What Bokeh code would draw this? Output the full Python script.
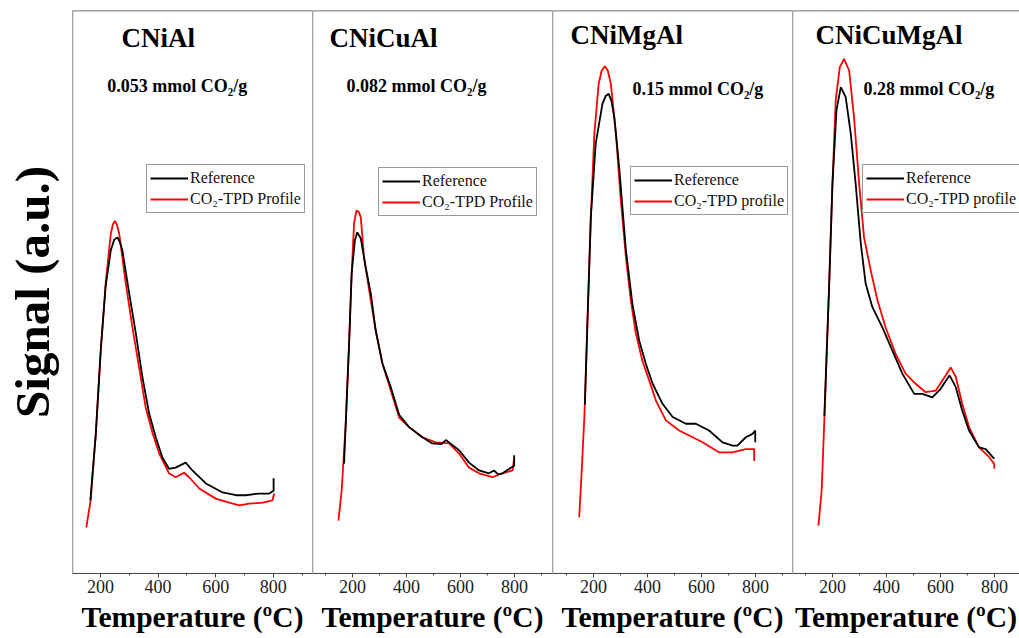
from bokeh.plotting import figure
from bokeh.models import Range1d, Span, Label, Legend, LegendItem, FixedTicker
from bokeh.layouts import row
from bokeh.embed import file_html
from bokeh.resources import INLINE

SERIF = "Liberation Serif"

samples = ["CNiAl", "CNiCuAl", "CNiMgAl", "CNiCuMgAl"]
capacities = ["0.053 mmol CO₂/g", "0.082 mmol CO₂/g", "0.15 mmol CO₂/g", "0.28 mmol CO₂/g"]
ref_label = "Reference"
tpd_labels = ["CO₂-TPD Profile", "CO₂-TPD Profile", "CO₂-TPD profile", "CO₂-TPD profile"]
x_ticks = [200, 400, 600, 800]
x_minor_ticks = [100, 300, 500, 700, 900]
x_axis_label = "Temperature (ºC)"
y_axis_label = "Signal (a.u.)"

# ---- CNiAl ----
cnial_tpd_T = [151, 166, 184, 201, 218, 236, 243, 250, 257, 265, 288, 311, 334, 357, 381, 404, 438, 461, 490, 508, 543, 600, 647, 682, 716, 763, 797, 803]
cnial_tpd_S = [8.2, 13.0, 24.9, 39.6, 51.5, 60.4, 62.0, 62.6, 62.0, 60.4, 51.5, 43.7, 36.6, 29.5, 24.9, 21.3, 17.8, 17.1, 17.9, 17.1, 15.1, 13.3, 12.6, 12.1, 12.4, 12.6, 13.0, 14.2]
cnial_ref_T = [165, 184, 201, 218, 236, 248, 259, 268, 276, 300, 323, 346, 369, 392, 415, 438, 461, 480, 496, 519, 566, 624, 670, 705, 751, 786, 801, 801]
cnial_ref_S = [13.0, 24.9, 39.6, 51.0, 57.4, 59.3, 59.7, 58.8, 57.4, 49.7, 42.6, 34.8, 28.4, 24.2, 20.6, 18.6, 18.8, 19.3, 19.7, 18.3, 16.0, 14.4, 13.9, 13.9, 14.2, 14.2, 14.7, 16.9]

# ---- CNiCuAl ----
cnicual_tpd_T = [148, 160, 175, 188, 197, 206, 215, 224, 231, 243, 262, 286, 311, 342, 373, 410, 459, 509, 558, 595, 632, 669, 719, 756, 793, 799]
cnicual_tpd_S = [9.4, 14.7, 26.6, 41.4, 53.3, 62.2, 64.5, 64.2, 63.2, 56.1, 50.3, 43.2, 37.3, 32.5, 27.7, 26.0, 24.2, 23.3, 23.1, 21.3, 18.8, 17.8, 17.1, 17.8, 18.3, 20.4]
cnicual_ref_T = [169, 188, 197, 209, 218, 231, 249, 268, 286, 311, 342, 373, 410, 459, 496, 530, 546, 560, 595, 632, 669, 706, 724, 740, 756, 787, 799, 799]
cnicual_ref_S = [19.5, 41.4, 53.3, 59.2, 60.6, 59.5, 54.4, 49.7, 43.2, 37.3, 33.1, 28.2, 26.0, 24.2, 23.1, 23.0, 23.7, 23.2, 21.9, 19.7, 18.3, 17.8, 18.3, 17.6, 17.8, 18.8, 19.1, 21.0]

# ---- CNiMgAl ----
cnimgal_tpd_T = [147, 157, 166, 178, 190, 203, 219, 230, 242, 253, 264, 283, 301, 320, 338, 357, 381, 406, 431, 468, 517, 567, 604, 666, 715, 764, 795, 795]
cnimgal_tpd_S = [10.0, 19.0, 27.8, 45.5, 63.3, 78.1, 87.0, 89.3, 90.1, 89.3, 87.0, 78.1, 66.3, 56.2, 48.5, 42.6, 37.8, 34.3, 30.7, 27.2, 25.4, 24.2, 23.3, 21.5, 21.5, 22.1, 22.1, 20.0]
cnimgal_ref_T = [168, 178, 190, 208, 233, 245, 256, 266, 277, 295, 320, 344, 369, 394, 419, 456, 493, 542, 579, 628, 678, 715, 733, 764, 789, 799, 799]
cnimgal_ref_S = [30.0, 45.5, 63.3, 76.3, 83.4, 84.8, 85.2, 84.0, 81.0, 72.2, 57.4, 47.9, 41.4, 37.2, 33.7, 30.1, 27.8, 26.6, 26.6, 25.4, 23.3, 22.7, 22.7, 24.2, 24.8, 25.4, 23.3]

# ---- CNiCuMgAl ----
cnicumgal_tpd_T = [148, 160, 175, 188, 200, 212, 227, 243, 262, 280, 299, 317, 342, 367, 397, 434, 471, 508, 545, 583, 620, 638, 657, 681, 706, 743, 780, 799, 800]
cnicumgal_tpd_S = [8.5, 14.7, 33.7, 51.5, 69.2, 84.0, 89.9, 91.4, 89.3, 81.0, 69.2, 59.7, 53.8, 48.5, 43.7, 39.0, 35.5, 33.7, 32.2, 32.5, 35.2, 36.6, 34.9, 30.1, 26.0, 22.4, 20.7, 19.5, 18.6]
cnicumgal_ref_T = [170, 188, 200, 215, 231, 249, 268, 286, 305, 323, 348, 385, 422, 459, 503, 533, 570, 601, 634, 657, 681, 706, 743, 768, 793, 800]
cnicumgal_ref_S = [28.0, 51.5, 69.2, 82.3, 86.4, 84.6, 78.1, 69.2, 58.6, 51.5, 47.3, 43.7, 39.6, 35.5, 31.9, 31.9, 31.3, 32.8, 35.2, 33.1, 28.9, 25.4, 22.4, 22.1, 20.7, 20.4]

series = [
    (cnial_ref_T, cnial_ref_S, cnial_tpd_T, cnial_tpd_S),
    (cnicual_ref_T, cnicual_ref_S, cnicual_tpd_T, cnicual_tpd_S),
    (cnimgal_ref_T, cnimgal_ref_S, cnimgal_tpd_T, cnimgal_tpd_S),
    (cnicumgal_ref_T, cnicumgal_ref_S, cnicumgal_tpd_T, cnicumgal_tpd_S),
]

# layout: (x_start, x_end, frame_width, legend_loc, title_pos, caption_pos)
layout_specs = [
    (103, 936, 240, (74, 360), (273, 95.2), (224, 86.6)),
    (52, 941, 240, (66, 357), (115, 95.2), (178, 86.6)),
    (48, 937, 240, (78, 358), (115, 95.7), (344, 86.0)),
    (52, 893, 227, (70, 360), (137, 95.7), (315, 86.0)),
]

BORDER = "#444444"
panels = []
for i, (spec, data) in enumerate(zip(layout_specs, series)):
    x0, x1, fw, leg_loc, title_pos, cap_pos = spec
    ref_T, ref_S, tpd_T, tpd_S = data
    p = figure(frame_width=fw, frame_height=563,
               x_range=Range1d(x0, x1), y_range=Range1d(0, 100),
               output_backend="svg", toolbar_location=None,
               y_axis_location="left" if i == 0 else None,
               min_border_left=72 if i == 0 else 0, min_border_right=0,
               min_border_top=10, min_border_bottom=65)
    p.outline_line_color = None
    p.grid.grid_line_color = None
    p.background_fill_color = "white"
    p.border_fill_color = "white"

    xa = p.xaxis[0]
    xa.ticker = FixedTicker(ticks=x_ticks, minor_ticks=x_minor_ticks)
    xa.axis_label = x_axis_label
    xa.axis_label_text_font = SERIF
    xa.axis_label_text_font_style = "bold"
    xa.axis_label_text_font_size = "29.5px"
    xa.axis_label_text_color = "black"
    xa.axis_label_standoff = 5
    xa.major_label_text_font = SERIF
    xa.major_label_text_font_size = "18px"
    xa.major_label_text_color = "#222222"
    xa.major_label_standoff = 2
    xa.major_tick_out = 4
    xa.major_tick_in = 0
    xa.minor_tick_out = 2
    xa.minor_tick_in = 0
    xa.axis_line_color = BORDER
    xa.major_tick_line_color = BORDER
    xa.minor_tick_line_color = BORDER

    if i == 0:
        ya = p.yaxis[0]
        ya.ticker = FixedTicker(ticks=[])
        ya.axis_label = y_axis_label
        ya.axis_label_text_font = SERIF
        ya.axis_label_text_font_style = "bold"
        ya.axis_label_text_font_size = "49px"
        ya.axis_label_text_color = "black"
        ya.axis_label_standoff = 13
        ya.major_label_text_font_size = "0px"
        ya.major_label_standoff = 0
        ya.major_tick_out = 0
        ya.major_tick_in = 0
        ya.minor_tick_out = 0
        ya.minor_tick_in = 0
        ya.axis_line_color = None

    p.add_layout(Span(location=x0, dimension="height", line_color=BORDER, line_width=1.3))
    p.add_layout(Span(location=100, dimension="width", line_color=BORDER, line_width=1.3))

    r_tpd = p.line(tpd_T, tpd_S, line_color="#ff0000", line_width=1.8)
    r_ref = p.line(ref_T, ref_S, line_color="black", line_width=1.8)

    legend = Legend(items=[LegendItem(label=ref_label, renderers=[r_ref]),
                           LegendItem(label=tpd_labels[i], renderers=[r_tpd])],
                    location=leg_loc, orientation="vertical",
                    label_text_font=SERIF, label_text_font_size="16px",
                    label_text_color="#111111",
                    glyph_width=38, glyph_height=20, label_height=20,
                    label_standoff=2, spacing=1, padding=3, margin=0,
                    border_line_color="#333333", border_line_width=1,
                    background_fill_color="white", background_fill_alpha=1)
    p.add_layout(legend)

    p.add_layout(Label(x=title_pos[0], y=title_pos[1], text=samples[i],
                       text_font=SERIF, text_font_style="bold", text_font_size="27px",
                       text_color="black", text_baseline="alphabetic"))
    p.add_layout(Label(x=cap_pos[0], y=cap_pos[1], text=capacities[i],
                       text_font=SERIF, text_font_style="bold", text_font_size="18px",
                       text_color="black", text_baseline="alphabetic"))
    panels.append(p)

layout = row(*panels, spacing=0)
open("out.html", "w").write(file_html(layout, INLINE))
